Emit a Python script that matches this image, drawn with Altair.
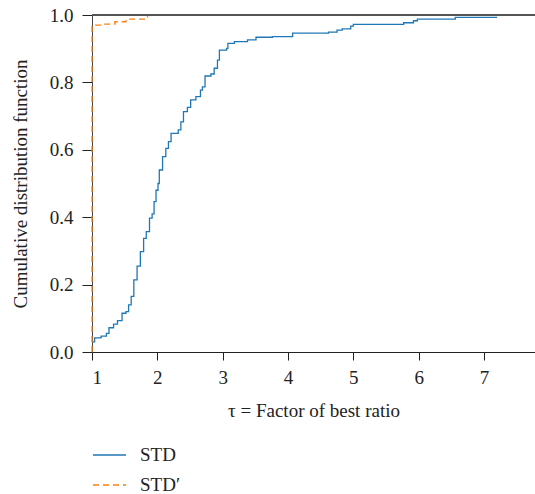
import altair as alt
import pandas as pd

# STD (blue) step CDF: x where step occurs, y after step
std_x = [1.00, 1.04, 1.14, 1.22, 1.26, 1.33, 1.39, 1.46, 1.52, 1.56, 1.60, 1.64, 1.69,
         1.74, 1.79, 1.83, 1.88, 1.92, 1.95, 1.98, 2.01, 2.03, 2.08, 2.13, 2.17, 2.21,
         2.32, 2.36, 2.40, 2.46, 2.51, 2.59, 2.66, 2.69, 2.73, 2.82, 2.87, 2.92, 2.95,
         3.06, 3.08, 3.18, 3.38, 3.51, 3.76, 4.07, 4.62, 4.75, 4.83, 4.96, 5.00, 5.77,
         5.92, 5.98, 6.56, 7.20]
std_y = [0.03, 0.042, 0.047, 0.055, 0.072, 0.083, 0.093, 0.115, 0.12, 0.14, 0.165, 0.214, 0.255,
         0.298, 0.337, 0.357, 0.397, 0.41, 0.446, 0.48, 0.50, 0.54, 0.58, 0.604, 0.624, 0.649,
         0.659, 0.683, 0.713, 0.726, 0.748, 0.758, 0.777, 0.787, 0.819, 0.825, 0.842, 0.866, 0.896,
         0.901, 0.916, 0.921, 0.926, 0.934, 0.936, 0.946, 0.949, 0.955, 0.959, 0.967, 0.972, 0.977,
         0.983, 0.988, 0.993, 0.993]

# STD' (orange) step CDF
stdp_x = [1.00, 1.00, 1.15, 1.35, 1.52, 1.85]
stdp_y = [0.0, 0.97, 0.973, 0.98, 0.988, 1.0]

series_names = ["STD", "STD\u2032"]
x_ticks = [1, 2, 3, 4, 5, 6, 7]
y_ticks = [0.0, 0.2, 0.4, 0.6, 0.8, 1.0]

rows = []
for i, (x, y) in enumerate(zip(std_x, std_y)):
    rows.append({"x": x, "y": y, "series": series_names[0], "order": i})
for i, (x, y) in enumerate(zip(stdp_x, stdp_y)):
    rows.append({"x": x, "y": y, "series": series_names[1], "order": i})
df = pd.DataFrame(rows)

FONT = "Liberation Serif"
FS = 19

lines = alt.Chart(df).mark_line(interpolate="step-after", strokeWidth=1.3).encode(
    x=alt.X("x:Q",
            scale=alt.Scale(domain=[1, 7.78], nice=False, zero=False),
            axis=alt.Axis(values=x_ticks, format="d", title="\u03c4 = Factor of best ratio",
                          grid=False, tickSize=8, labelPadding=8, titlePadding=14,
                          domainColor="#222", tickColor="#222")),
    y=alt.Y("y:Q",
            scale=alt.Scale(domain=[0, 1], nice=False),
            axis=alt.Axis(values=y_ticks, format=".1f", title="Cumulative distribution function",
                          grid=False, tickSize=10, labelPadding=9, titlePadding=19,
                          domainColor="#444", tickColor="#222")),
    color=alt.Color("series:N",
                    scale=alt.Scale(domain=series_names, range=["#1f77b4", "#ff7f0e"]),
                    legend=alt.Legend(title=None, orient="none", legendX=0, legendY=428,
                                      symbolType="stroke", symbolSize=1089, symbolStrokeWidth=1.5,
                                      labelFontSize=FS, labelFont=FONT, labelColor="#222",
                                      labelOffset=13, rowPadding=6, clipHeight=24)),
    strokeDash=alt.StrokeDash("series:N",
                              scale=alt.Scale(domain=series_names, range=[[1, 0], [6, 4]]),
                              legend=None),
    order="order:Q",
)

top_rule = alt.Chart(pd.DataFrame({"y": [1.0]})).mark_rule(color="#555", strokeWidth=2).encode(
    y=alt.Y("y:Q")
)

chart = alt.layer(lines, top_rule).properties(
    width=443, height=337,
    padding={"left": 92, "top": 15, "right": 0, "bottom": 142},
    autosize=alt.AutoSizeParams(type="none"),
    background="white",
).configure_view(stroke=None).configure_axis(
    labelFont=FONT, titleFont=FONT, labelFontSize=FS, titleFontSize=FS,
    labelColor="#222", titleColor="#222", titleFontWeight="normal"
)

chart.save("out.html", embed_options={"renderer": "svg", "actions": False})
